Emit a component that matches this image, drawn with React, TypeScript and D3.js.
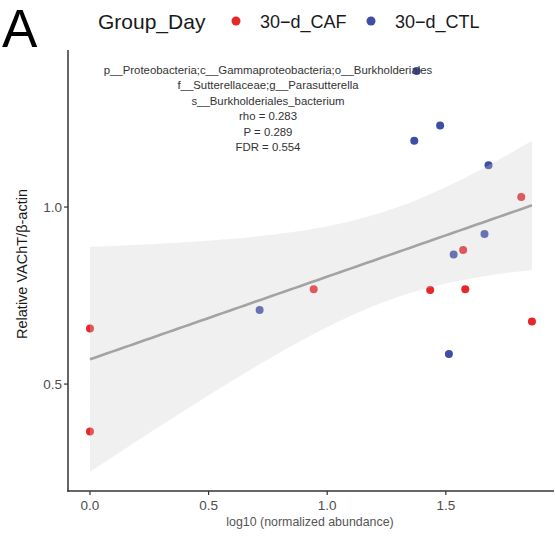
import React from "react";
import * as d3 from "d3";

const cafX = [0, 0, 0.943, 1.434, 1.582, 1.573, 1.818, 1.863];
const cafY = [0.657, 0.366, 0.768, 0.766, 0.768, 0.879, 1.028, 0.677];
const ctlX = [1.377, 1.476, 1.367, 1.68, 1.663, 1.533, 0.715, 1.513];
const ctlY = [1.384, 1.23, 1.187, 1.118, 0.924, 0.866, 0.709, 0.585];
const xTicks = [0, 0.5, 1.0, 1.5];
const yTicks = [0.5, 1.0];
const annotation = [
  "p__Proteobacteria;c__Gammaproteobacteria;o__Burkholderiales",
  "f__Sutterellaceae;g__Parasutterella",
  "s__Burkholderiales_bacterium",
  "rho = 0.283",
  "P = 0.289",
  "FDR = 0.554",
];
const groups = ["30\u2212d_CAF", "30\u2212d_CTL"];
const T_CRIT = 2.1448; // qt(0.975, 14)

const RED = "#e6282b";
const BLUE = "#3d4ea6";
const FONT = "'Liberation Sans', Arial, sans-serif";

export default function App() {
  const W = 555, H = 537;
  const left = 68, right = 554, top = 50, bottom = 491;
  const x = d3.scaleLinear().domain([-0.0927, 1.956]).range([left, right]);
  const y = d3.scaleLinear().domain([0.198, 1.4435]).range([bottom, top]);

  const xs = [...cafX, ...ctlX];
  const ys = [...cafY, ...ctlY];
  const n = xs.length;
  const mx = d3.mean(xs)!;
  const my = d3.mean(ys)!;
  const sxx = d3.sum(xs, (v) => (v - mx) ** 2);
  const sxy = d3.sum(xs.map((v, i) => (v - mx) * (ys[i] - my)));
  const b = sxy / sxx;
  const a = my - b * mx;
  const sse = d3.sum(xs.map((v, i) => (ys[i] - (a + b * v)) ** 2));
  const s = Math.sqrt(sse / (n - 2));
  const [xmin, xmax] = d3.extent(xs) as [number, number];
  const grid = d3.range(0, 81).map((i) => xmin + ((xmax - xmin) * i) / 80);
  const band = grid.map((g) => {
    const fit = a + b * g;
    const se = s * Math.sqrt(1 / n + (g - mx) ** 2 / sxx);
    return { g, fit, lo: fit - T_CRIT * se, hi: fit + T_CRIT * se };
  });
  const area = d3
    .area<any>()
    .x((d) => x(d.g))
    .y0((d) => y(d.lo))
    .y1((d) => y(d.hi));
  const line = d3
    .line<any>()
    .x((d) => x(d.g))
    .y((d) => y(d.fit));

  return (
    <svg
      width={W}
      height={H}
      style={{ position: "absolute", left: 0, top: 0, background: "#fff" }}
      fontFamily={FONT}
    >
      <text x={2} y={47} fontSize={53} fill="#000">A</text>
      <text x={98} y={29} fontSize={21} fill="#1a1a1a">Group_Day</text>
      <circle cx={236} cy={21} r={4.5} fill={RED} />
      <text x={260} y={28} fontSize={18} fill="#1a1a1a">{groups[0]}</text>
      <circle cx={371} cy={21} r={4.5} fill={BLUE} />
      <text x={395} y={28} fontSize={18} fill="#1a1a1a">{groups[1]}</text>

      {cafX.map((v, i) => (
        <circle key={"c" + i} cx={x(v)} cy={y(cafY[i])} r={4} fill={RED} />
      ))}
      {ctlX.map((v, i) => (
        <circle key={"t" + i} cx={x(v)} cy={y(ctlY[i])} r={4} fill={BLUE} />
      ))}
      <path d={area(band)!} fill="#cccccc" fillOpacity={0.3} />
      <path d={line(band)!} fill="none" stroke="#a3a3a3" strokeWidth={2.6} />

      {annotation.map((t, i) => (
        <text
          key={i}
          x={268}
          y={74 + i * 15.4}
          fontSize={11.4}
          textAnchor="middle"
          fill="#333"
        >
          {t}
        </text>
      ))}

      <line x1={left} x2={left} y1={top} y2={bottom + 0.7} stroke="#333" strokeWidth={1.5} />
      <line x1={left - 0.7} x2={right} y1={bottom} y2={bottom} stroke="#333" strokeWidth={1.5} />
      {xTicks.map((t) => (
        <g key={"x" + t}>
          <line x1={x(t)} x2={x(t)} y1={bottom} y2={bottom + 4} stroke="#333" strokeWidth={1.2} />
          <text x={x(t)} y={510} fontSize={13.5} textAnchor="middle" fill="#4d4d4d">
            {d3.format(".1f")(t)}
          </text>
        </g>
      ))}
      {yTicks.map((t) => (
        <g key={"y" + t}>
          <line x1={left - 4} x2={left} y1={y(t)} y2={y(t)} stroke="#333" strokeWidth={1.2} />
          <text x={62} y={y(t) + 5} fontSize={13.5} textAnchor="end" fill="#4d4d4d">
            {d3.format(".1f")(t)}
          </text>
        </g>
      ))}
      <text x={310} y={526} fontSize={12.4} textAnchor="middle" fill="#555">
        log10 (normalized abundance)
      </text>
      <text
        transform="translate(27,264) rotate(-90)"
        fontSize={14.5}
        textAnchor="middle"
        fill="#1a1a1a"
      >
        Relative VAChT/β-actin
      </text>
    </svg>
  );
}
